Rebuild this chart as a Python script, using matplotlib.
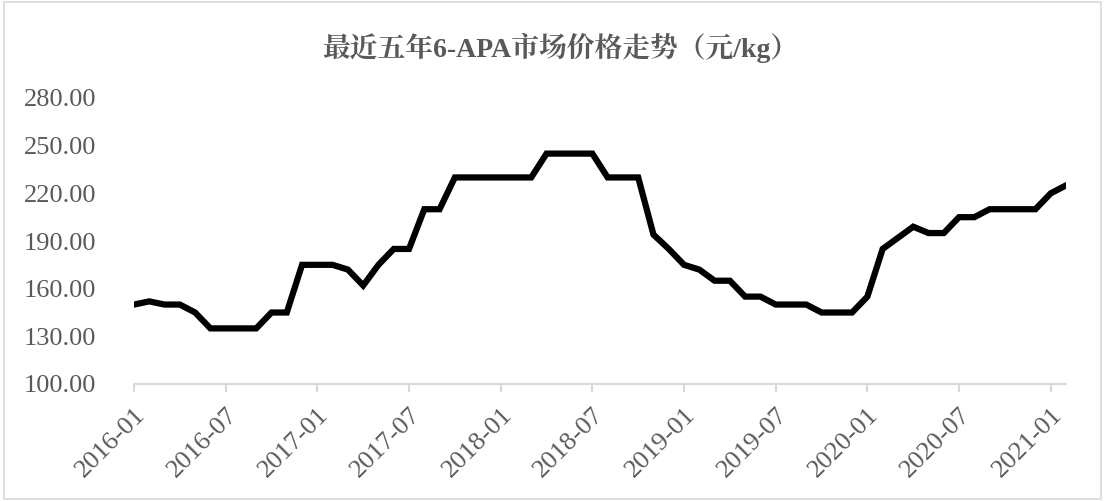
import matplotlib
matplotlib.use('Agg')
import matplotlib.pyplot as plt
import matplotlib.transforms as mtransforms
import numpy as np
import pandas as pd

# Monthly 6-APA price (yuan/kg), 2016-01 .. 2021-02
months = pd.date_range('2016-01-01', '2021-02-01', freq='MS').strftime('%Y-%m').tolist()
prices = [150, 152, 150, 150, 145, 135, 135, 135, 135, 145, 145, 175,
          175, 175, 172, 162, 175, 185, 185, 210, 210, 230, 230, 230,
          230, 230, 230, 245, 245, 245, 245, 230, 230, 230, 194, 185,
          175, 172, 165, 165, 155, 155, 150, 150, 150, 145, 145, 145,
          155, 185, 192, 199, 195, 195, 205, 205, 210, 210, 210, 210,
          220, 225]
title = '最近五年6-APA市场价格走势（元/kg）'
yticks = [100, 130, 160, 190, 220, 250, 280]

plt.rcParams['font.family'] = ['Liberation Serif', 'Noto Serif CJK SC', 'Noto Sans CJK SC']

fig = plt.figure(figsize=(11.05, 5.01), dpi=100)
ax = fig.add_axes([134 / 1105, 1 - 384 / 501, (1066 - 134) / 1105, (384 - 98) / 501])

x = np.arange(len(months))
ax.plot(x, prices, color='black', linewidth=4.5, solid_joinstyle='miter')

ax.set_xlim(0, len(months) - 1)
ax.set_ylim(100, 280)
ax.set_yticks(yticks)
ax.set_yticklabels([f'{v:.2f}' for v in yticks], fontsize=19, color='#595959')
ax.set_xticks(x[::6])
ax.set_xticklabels(months[::6], rotation=45, ha='right', va='top',
                   rotation_mode='anchor', fontsize=19, color='#595959')

# nudge rotated date labels a bit to the left
shift = mtransforms.ScaledTranslation(-7 / 100, 0, fig.dpi_scale_trans)
for lab in ax.get_xticklabels():
    lab.set_transform(lab.get_transform() + shift)

for s in ['top', 'right', 'left']:
    ax.spines[s].set_visible(False)
ax.spines['bottom'].set_color('#d9d9d9')
ax.spines['bottom'].set_linewidth(1.5)
ax.tick_params(axis='y', length=0, pad=27)
ax.tick_params(axis='x', length=6, width=1.5, color='#d9d9d9', pad=8)

fig.text(560 / 1105, 1 - 48 / 501, title, ha='center', va='center',
         fontsize=20, fontweight='bold', color='#595959')

# chart border
fig.patches.append(plt.Rectangle((0.004, 0.004), 0.992, 0.992, transform=fig.transFigure,
                                 fill=False, edgecolor='#d9d9d9', linewidth=1.2))

fig.savefig('out.png', dpi=100)
